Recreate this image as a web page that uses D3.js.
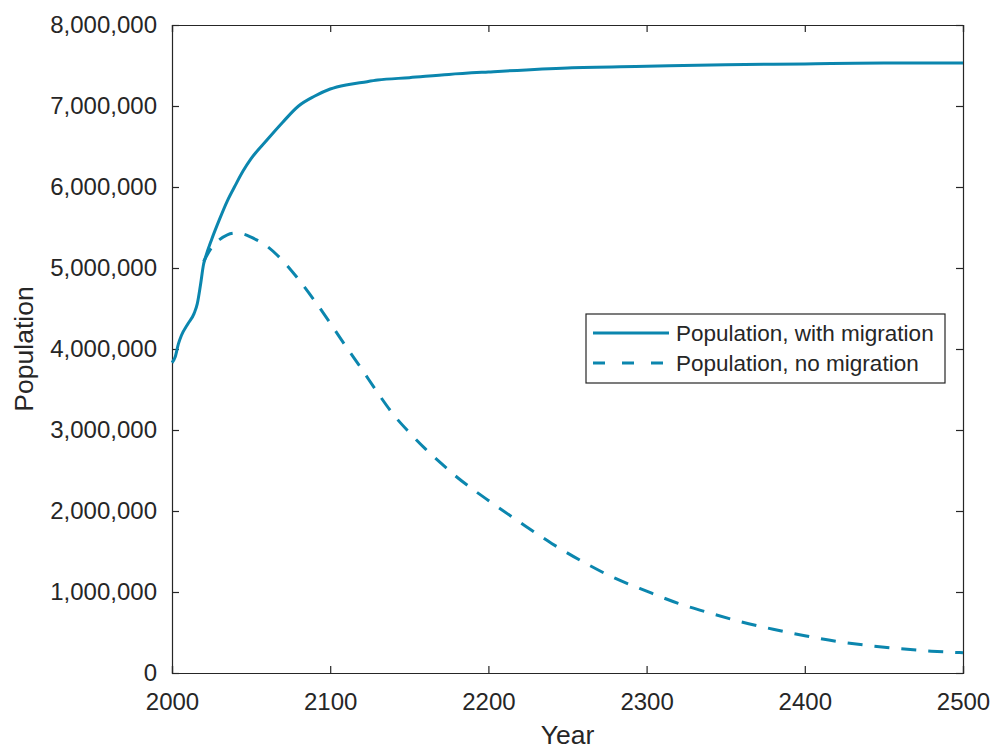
<!DOCTYPE html>
<html>
<head>
<meta charset="utf-8">
<script src="https://cdn.jsdelivr.net/npm/d3@7"></script>
<style>
body { margin: 0; background: #fff; }
text { font-family: "Liberation Sans", Arial, Helvetica, sans-serif; fill: #262626; }
</style>
</head>
<body>
<script>
var width = 993, height = 747;
var margin = {top: 25, right: 30, bottom: 74, left: 172};

// population with migration
var yearsMig = [2000, 2002, 2004, 2006, 2010, 2014, 2016, 2018, 2020, 2021, 2025, 2030, 2035, 2040, 2045, 2050, 2060, 2070, 2080, 2090, 2100, 2110, 2120, 2130, 2150, 2175, 2200, 2250, 2300, 2350, 2400, 2450, 2500];
var popMig = [3830000, 3900000, 4060000, 4170000, 4310000, 4440000, 4560000, 4790000, 5050000, 5120000, 5350000, 5600000, 5830000, 6020000, 6200000, 6350000, 6580000, 6800000, 7000000, 7120000, 7210000, 7260000, 7290000, 7320000, 7350000, 7390000, 7420000, 7470000, 7490000, 7510000, 7520000, 7530000, 7530000];

// population without migration
var yearsNoMig = [2020, 2025, 2030, 2035, 2040, 2045, 2050, 2060, 2070, 2080, 2090, 2100, 2110, 2120, 2130, 2140, 2150, 2160, 2170, 2180, 2190, 2200, 2220, 2240, 2260, 2280, 2300, 2320, 2340, 2360, 2380, 2400, 2420, 2440, 2460, 2480, 2500];
var popNoMig = [5080000, 5250000, 5350000, 5410000, 5430000, 5420000, 5380000, 5270000, 5090000, 4860000, 4600000, 4320000, 4030000, 3750000, 3460000, 3190000, 2970000, 2770000, 2590000, 2420000, 2270000, 2130000, 1860000, 1600000, 1370000, 1170000, 1010000, 860000, 740000, 630000, 540000, 460000, 390000, 340000, 300000, 270000, 250000];

var xTicks = [2000, 2100, 2200, 2300, 2400, 2500];
var yTicks = [0, 1000000, 2000000, 3000000, 4000000, 5000000, 6000000, 7000000, 8000000];
var seriesNames = ["Population, with migration", "Population, no migration"];

var color = "#0b86ae";
var axisColor = "#262626";

var svg = d3.select("body").append("svg")
    .attr("width", width)
    .attr("height", height);

var x = d3.scaleLinear().domain([2000, 2500]).range([margin.left, width - margin.right]);
var y = d3.scaleLinear().domain([0, 8000000]).range([height - margin.bottom, margin.top]);

var fmt = d3.format(",");
var tickLen = 7;

// box and axes
var gx = svg.append("g").attr("transform", "translate(0," + y(0) + ")")
    .call(d3.axisBottom(x).tickValues(xTicks).tickSize(-tickLen).tickPadding(20).tickFormat(d3.format("d")));
var gxTop = svg.append("g").attr("transform", "translate(0," + y(8000000) + ")")
    .call(d3.axisTop(x).tickValues(xTicks).tickSize(-tickLen).tickFormat(""));
var gy = svg.append("g").attr("transform", "translate(" + x(2000) + ",0)")
    .call(d3.axisLeft(y).tickValues(yTicks).tickSize(-tickLen).tickPadding(15).tickFormat(fmt));
var gyRight = svg.append("g").attr("transform", "translate(" + x(2500) + ",0)")
    .call(d3.axisRight(y).tickValues(yTicks).tickSize(-tickLen).tickFormat(""));

[gx, gxTop, gy, gyRight].forEach(function(g) {
  g.select(".domain").attr("stroke", axisColor).attr("stroke-width", 1.2);
  g.selectAll(".tick line").attr("stroke", axisColor).attr("stroke-width", 1.2);
  g.selectAll(".tick text").style("font-size", "24px").attr("fill", axisColor)
    .style("font-family", "'Liberation Sans', Arial, sans-serif");
});
gx.selectAll(".tick text").attr("dy", "0.71em");

// axis labels
svg.append("text")
    .attr("x", (x(2000) + x(2500)) / 2)
    .attr("y", 744)
    .attr("text-anchor", "middle")
    .style("font-size", "26.5px")
    .text("Year");

svg.append("text")
    .attr("transform", "translate(33," + ((y(0) + y(8000000)) / 2) + ") rotate(-90)")
    .attr("text-anchor", "middle")
    .style("font-size", "26.5px")
    .text("Population");

// lines
var line = d3.line()
    .x(function(d) { return x(d[0]); })
    .y(function(d) { return y(d[1]); })
    .curve(d3.curveMonotoneX);

var dataNoMig = yearsNoMig.map(function(d, i) { return [d, popNoMig[i]]; });
var dataMig = yearsMig.map(function(d, i) { return [d, popMig[i]]; });

svg.append("path")
    .datum(dataNoMig)
    .attr("d", line)
    .attr("fill", "none")
    .attr("stroke", color)
    .attr("stroke-width", 3)
    .attr("stroke-dasharray", "15,12");

svg.append("path")
    .datum(dataMig)
    .attr("d", line)
    .attr("fill", "none")
    .attr("stroke", color)
    .attr("stroke-width", 3);

// legend
var legend = svg.append("g").attr("transform", "translate(586,314)");
legend.append("rect")
    .attr("width", 359)
    .attr("height", 69)
    .attr("fill", "#fff")
    .attr("stroke", axisColor)
    .attr("stroke-width", 1.2);

seriesNames.forEach(function(name, i) {
  var cy = 19 + i * 30;
  legend.append("line")
      .attr("x1", 7).attr("x2", 83)
      .attr("y1", cy).attr("y2", cy)
      .attr("stroke", color)
      .attr("stroke-width", 3)
      .attr("stroke-dasharray", i === 1 ? "12,17" : null);
  legend.append("text")
      .attr("x", 90)
      .attr("y", cy)
      .attr("dy", "0.36em")
      .style("font-size", "22.5px")
      .text(name);
});
</script>
</body>
</html>
